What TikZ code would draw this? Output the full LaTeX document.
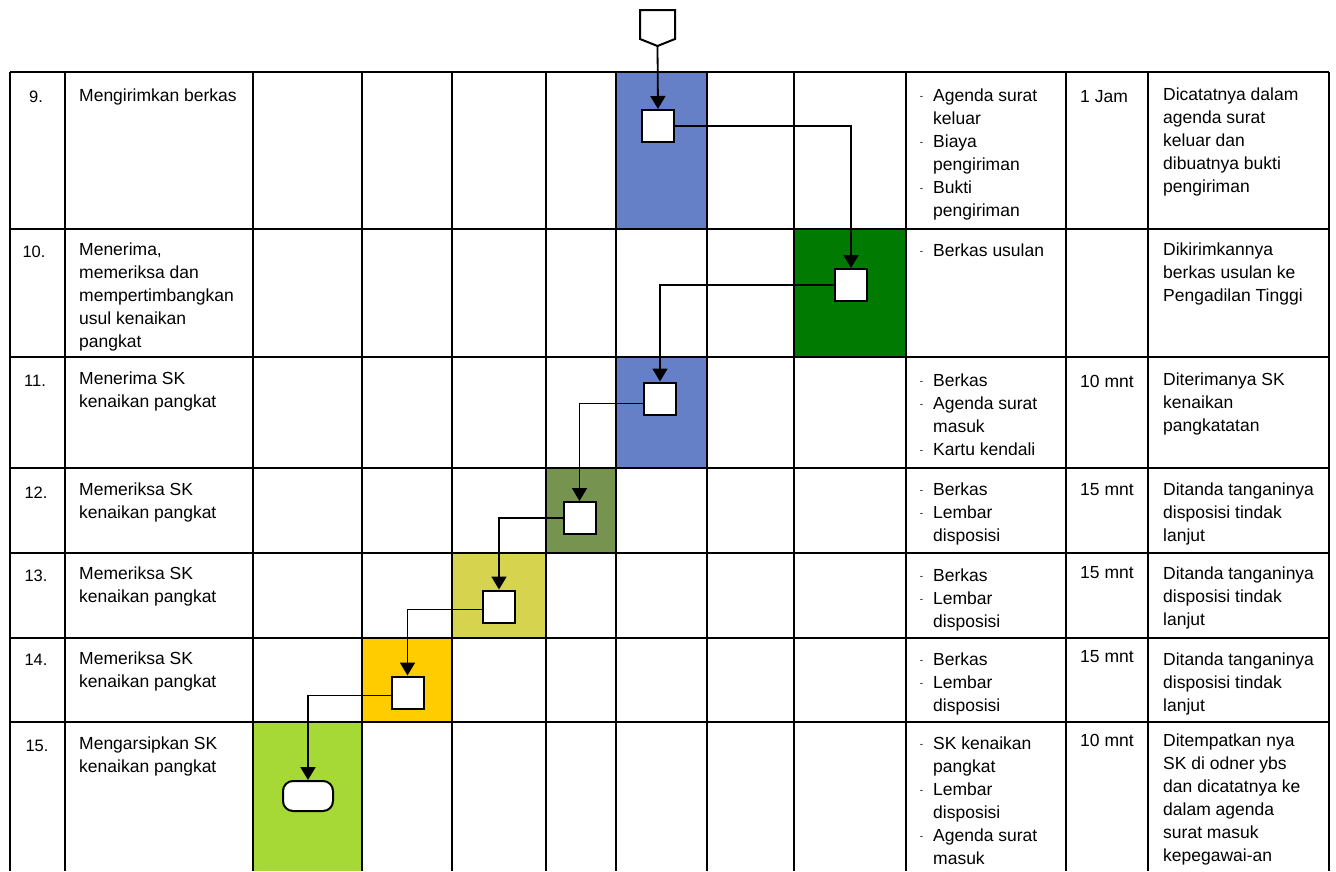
\documentclass[tikz,border=0pt]{standalone}
\usepackage{fontspec}
\setmainfont{Liberation Sans}
\usetikzlibrary{arrows.meta}
\newcommand\dd{\llap{\raisebox{1.5pt}{\fontsize{10}{12}\selectfont -}\hspace{10pt}}}
\newcommand\cell[1]{\begin{tabular}[t]{@{}l@{}}#1\end{tabular}}
\definecolor{cblue}{RGB}{102,128,200}
\definecolor{cgreen}{RGB}{0,122,0}
\definecolor{colive}{RGB}{118,148,80}
\definecolor{cyellow}{RGB}{214,212,78}
\definecolor{corange}{RGB}{255,204,0}
\definecolor{clime}{RGB}{166,217,54}
\begin{document}
\begin{tikzpicture}[x=1pt,y=-1pt,
 gridline/.style={line width=2.3pt},
 txt/.style={anchor=base west, inner sep=0pt, font=\fontsize{17.5}{23}\selectfont},
 num/.style={anchor=base, inner sep=0pt, font=\fontsize{16.5}{23}\selectfont},
 stepbox/.style={draw, fill=white, line width=2pt, minimum width=32pt, minimum height=32pt, inner sep=0pt},
 termbox/.style={draw, fill=white, line width=2pt, rounded corners=10pt, minimum width=50pt, minimum height=30pt, inner sep=0pt},
 flow/.style={line width=1.8pt, -{Triangle[width=15pt,length=13pt]}},
]
\fill[white] (0,0) rectangle (1336,871);
\useasboundingbox (0,0) rectangle (1336,871);

% coloured cells
\fill[cblue]   (616,72)  rectangle (707,229);
\fill[cgreen]  (794,229) rectangle (906,357);
\fill[cblue]   (616,357) rectangle (707,468);
\fill[colive]  (546,468) rectangle (616,553);
\fill[cyellow] (452,553) rectangle (546,638);
\fill[corange] (362,638) rectangle (452,722);
\fill[clime]   (253,722) rectangle (362,871);

% grid
\foreach \y in {72,229,357,468,553,638,722}
  \draw[gridline] (10,\y) -- (1329,\y);
\foreach \x in {10,65,253,362,452,546,616,707,794,906,1066,1148,1329}
  \draw[gridline] (\x,72) -- (\x,871);

% off-page connector
\draw[line width=2pt, fill=white, line join=miter] (640,10) -- (675,10) -- (675,39) -- (657.5,46) -- (640,39) -- cycle;
\coordinate (offpage) at (657.5,46);

% process boxes
\node[stepbox] (b9)  at (658,126) {};
\node[stepbox] (b10) at (851,285) {};
\node[stepbox] (b11) at (660,398.5) {};
\node[stepbox] (b12) at (579.5,518) {};
\node[stepbox] (b13) at (499,606.5) {};
\node[stepbox] (b14) at (407.5,692.5) {};
\node[termbox] (end) at (308,796) {};

% connectors
\draw[flow] (offpage) -- (b9.north);
\draw[flow] (b9.east) -| (b10.north);
\draw[flow] (b10.west) -| (b11.north);
\draw[flow] ([yshift=-5pt]b11.west) -| (b12.north);
\draw[flow] (b12.west) -| (b13.north);
\draw[flow] ([yshift=-3pt]b13.west) -| (b14.north);
\draw[flow] ([yshift=-3pt]b14.west) -| (end.north);

% row 9
\node[num] (n9) at (36,102) {9.};
\node[txt] (d9) at (79,101) {Mengirimkan berkas};
\node[txt] (a9) at (933,101) {\cell{\dd Agenda surat\\keluar\\\dd Biaya\\pengiriman\\\dd Bukti\\pengiriman}};
\node[txt] (t9) at (1080,102) {1 Jam};
\node[txt] (r9) at (1163,100) {\cell{Dicatatnya dalam\\agenda surat\\keluar dan\\dibuatnya bukti\\pengiriman}};

% row 10
\node[num] (n10) at (34,257) {10.};
\node[txt] (d10) at (79,255) {\cell{Menerima,\\memeriksa dan\\mempertimbangkan\\usul kenaikan\\pangkat}};
\node[txt] (a10) at (933,256) {\cell{\dd Berkas usulan}};
\node[txt] (r10) at (1163,255) {\cell{Dikirimkannya\\berkas usulan ke\\Pengadilan Tinggi}};

% row 11
\node[num] (n11) at (35,386) {11.};
\node[txt] (d11) at (79,384) {\cell{Menerima SK\\kenaikan pangkat}};
\node[txt] (a11) at (933,386) {\cell{\dd Berkas\\\dd Agenda surat\\masuk\\\dd Kartu kendali}};
\node[txt] (t11) at (1080,387) {10 mnt};
\node[txt] (r11) at (1163,385) {\cell{Diterimanya SK\\kenaikan\\pangkatatan}};

% row 12
\node[num] (n12) at (36,498) {12.};
\node[txt] (d12) at (79,495) {\cell{Memeriksa SK\\kenaikan pangkat}};
\node[txt] (a12) at (933,495) {\cell{\dd Berkas\\\dd Lembar\\disposisi}};
\node[txt] (t12) at (1080,495) {15 mnt};
\node[txt] (r12) at (1163,495) {\cell{Ditanda tanganinya\\disposisi tindak\\lanjut}};

% row 13
\node[num] (n13) at (36,581) {13.};
\node[txt] (d13) at (79,579) {\cell{Memeriksa SK\\kenaikan pangkat}};
\node[txt] (a13) at (933,581) {\cell{\dd Berkas\\\dd Lembar\\disposisi}};
\node[txt] (t13) at (1080,578) {15 mnt};
\node[txt] (r13) at (1163,579) {\cell{Ditanda tanganinya\\disposisi tindak\\lanjut}};

% row 14
\node[num] (n14) at (36,665) {14.};
\node[txt] (d14) at (79,664) {\cell{Memeriksa SK\\kenaikan pangkat}};
\node[txt] (a14) at (933,665) {\cell{\dd Berkas\\\dd Lembar\\disposisi}};
\node[txt] (t14) at (1080,662) {15 mnt};
\node[txt] (r14) at (1163,665) {\cell{Ditanda tanganinya\\disposisi tindak\\lanjut}};

% row 15
\node[num] (n15) at (37,751) {15.};
\node[txt] (d15) at (79,749) {\cell{Mengarsipkan SK\\kenaikan pangkat}};
\node[txt] (a15) at (933,749) {\cell{\dd SK kenaikan\\pangkat\\\dd Lembar\\disposisi\\\dd Agenda surat\\masuk}};
\node[txt] (t15) at (1080,746) {10 mnt};
\node[txt] (r15) at (1163,746) {\cell{Ditempatkan nya\\SK di odner ybs\\dan dicatatnya ke\\dalam agenda\\surat masuk\\kepegawai-an}};
\end{tikzpicture}
\end{document}
